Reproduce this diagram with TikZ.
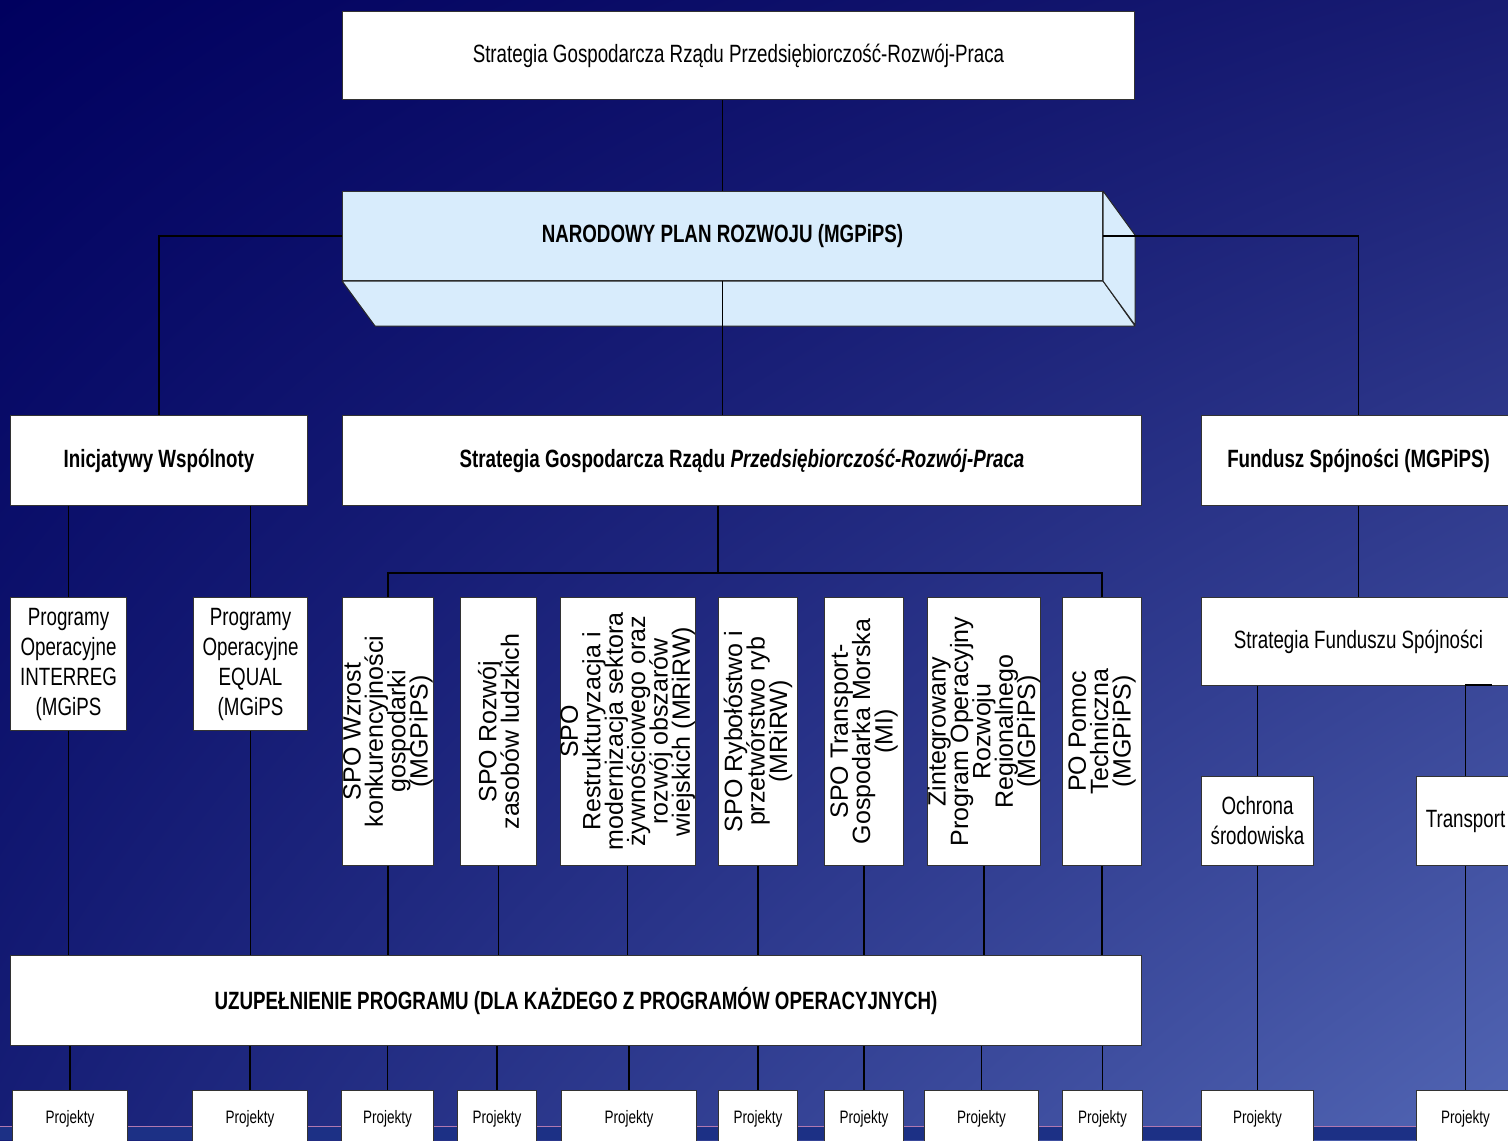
\documentclass[tikz,border=0pt]{standalone}
\usepackage{fontspec}
\setmainfont{Liberation Sans}
\newfontfamily\cnd[FakeStretch=0.75]{Liberation Sans}
\usetikzlibrary{shadings}
\definecolor{bgUL}{HTML}{00005F}
\definecolor{bgUR}{HTML}{181C72}
\definecolor{bgLL}{HTML}{161E76}
\definecolor{bgLR}{HTML}{5266B4}
\definecolor{stripc}{HTML}{1C3085}
\definecolor{pinkc}{HTML}{B078B0}
\definecolor{nprc}{HTML}{D8ECFC}
\tikzset{
  box/.style={draw=black!80, line width=0.5pt, fill=white, inner sep=0pt, anchor=north west, align=center, font={\cnd\fontsize{12.5}{15}\selectfont}},
  bbox/.style={box, font={\cnd\bfseries\fontsize{12.5}{15}\selectfont}},
  vbox/.style={box, font={\fontsize{12.5}{11.2}\selectfont}},
  pbox/.style={box, font={\cnd\fontsize{9}{11}\selectfont}},
  wh/.style 2 args={minimum width=#1*0.5pt, minimum height=#2*0.5pt},
  conn/.style={draw=black, line width=0.6pt},
  face/.style={fill=nprc, draw=black!85, line width=0.5pt, line join=round},
}
\newcommand{\vtext}[1]{\rotatebox{90}{\parbox{132pt}{\centering\lineskiplimit=-100pt #1}}}
\begin{document}
\begin{tikzpicture}[x=0.5pt, y=-0.5pt]
\useasboundingbox (0,0) rectangle (1508,1140);
\clip (0,0) rectangle (1508,1140);
\shade[upper left=bgUL, upper right=bgUR, lower left=bgLL, lower right=bgLR] (0,0) rectangle (1508,1140);
\fill[stripc] (0,1127) rectangle (1508,1140);
\draw[pinkc, line width=0.8pt] (0,1126.5) -- (1508,1126.5);

% nodes
\node[box, wh={792}{88}] (top) at (342,11) {Strategia Gospodarcza Rządu Przedsiębiorczość-Rozwój-Praca};
\node[bbox, wh={760}{89}, fill=nprc] (npr) at (342,191) {NARODOWY PLAN ROZWOJU (MGPiPS)};
\node[bbox, wh={297}{90}] (inic) at (10,415) {Inicjatywy Wspólnoty};
\node[bbox, wh={799}{90}] (strat) at (342,415) {Strategia Gospodarcza Rządu \textit{Przedsiębiorczość-Rozwój-Praca}};
\node[bbox, wh={314}{90}] (fund) at (1201,415) {Fundusz Spójności (MGPiPS)};

\node[box, wh={116}{133}] (prog1) at (10,597) {Programy\\Operacyjne\\INTERREG\\(MGiPS};
\node[box, wh={114}{133}] (prog2) at (193,597) {Programy\\Operacyjne\\EQUAL\\(MGiPS};
\node[vbox, wh={91}{268}] (spo1) at (342,597) {\vtext{SPO Wzrost\\konkurencyjności\\gospodarki\\(MGPiPS)}};
\node[vbox, wh={76}{268}] (spo2) at (460,597) {\vtext{SPO Rozwój\\zasobów ludzkich}};
\node[vbox, wh={134}{268}] (spo3) at (560,597) {\vtext{SPO\\Restrukturyzacja i\\modernizacja sektora\\żywnościowego oraz\\rozwój obszarów\\wiejskich (MRiRW)}};
\node[vbox, wh={79}{268}] (spo4) at (718,597) {\vtext{SPO Rybołóstwo i\\przetwórstwo ryb\\(MRiRW)}};
\node[vbox, wh={79}{268}] (spo5) at (824,597) {\vtext{SPO Transport-\\Gospodarka Morska\\(MI)}};
\node[vbox, wh={111}{268}] (spo6) at (927,597) {\vtext{Zintegrowany\\Program Operacyjny\\Rozwoju\\Regionalnego\\(MGPiPS)}};
\node[vbox, wh={79}{268}] (spo7) at (1062,597) {\vtext{PO Pomoc\\Techniczna\\(MGPiPS)}};
\node[box, wh={314}{88}] (sfs) at (1201,597) {Strategia Funduszu Spójności};
\node[box, wh={112}{89}] (ochr) at (1201,776) {Ochrona\\środowiska};
\node[box, wh={98}{89}] (trans) at (1416,776) {Transport};
\node[bbox, wh={1131}{90}] (uzup) at (10,955) {UZUPEŁNIENIE PROGRAMU (DLA KAŻDEGO Z PROGRAMÓW OPERACYJNYCH)};

\foreach \n/\x/\w in {1/12/115, 2/192/115, 3/341/92, 4/457/79, 5/561/135, 6/718/79, 7/824/79, 8/924/114, 9/1062/80, 10/1201/112, 11/1416/98}
  \node[pbox, wh={\w}{56}] (pr\n) at (\x,1090) {Projekty};

% 3D faces of NPR
\path[face] (npr.south west) -- (npr.south east) -- ++(32,45) -- ++(-760,0) -- cycle;
\path[face] (npr.north east) -- ++(32,44) -- ++(0,90) -- (npr.south east) -- cycle;

% connectors
\draw[conn] (npr.north |- top.south) -- (npr.north);
\draw[conn] (npr.south) -- (npr.south |- strat.north);
\draw[conn] (npr.west) -| (inic.north);
\draw[conn] (npr.east) -| (fund.north);
\coordinate (bar) at (718,573);
\draw[conn] (strat.south -| bar) -- (bar);
\draw[conn] (spo1.north) |- (bar) -| (spo7.north);
\foreach \p in {prog1, prog2} {
  \draw[conn] (inic.south -| \p.north) -- (\p.north);
  \draw[conn] (\p.south) -- (\p.south |- uzup.north);
}
\foreach \s in {spo1, spo2, spo3, spo4, spo5, spo6, spo7}
  \draw[conn] (\s.south) -- (\s.south |- uzup.north);
\foreach \n in {1,...,9}
  \draw[conn] (pr\n.north |- uzup.south) -- (pr\n.north);
\draw[conn] (fund.south) -- (sfs.north);
\draw[conn] (ochr.north |- sfs.south) -- (ochr.north);
\coordinate (tk) at (1492,685);
\draw[conn] (tk) -| (trans.north);
\draw[conn] (ochr.south) -- (pr10.north);
\draw[conn] (trans.south) -- (pr11.north);
\end{tikzpicture}
\end{document}
